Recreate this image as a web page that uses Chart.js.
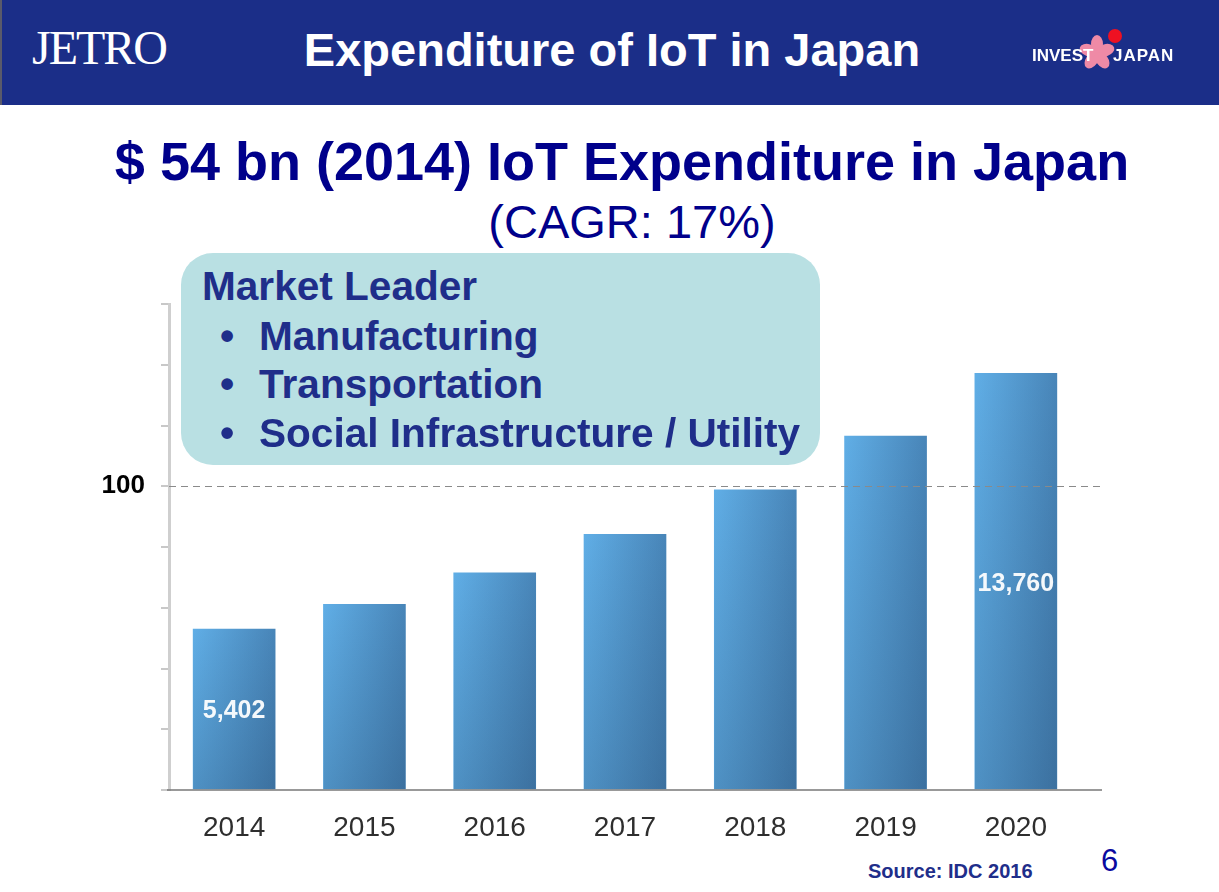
<!DOCTYPE html>
<html>
<head>
<meta charset="utf-8">
<script src="https://cdn.jsdelivr.net/npm/chart.js@4.4.1/dist/chart.umd.min.js"></script>
<style>
html,body{margin:0;padding:0;background:#fff;}
body{width:1219px;height:892px;position:relative;overflow:hidden;font-family:Arial,"Liberation Sans",sans-serif;}
.abs{position:absolute;white-space:nowrap;}
#hdr{left:0;top:0;width:1219px;height:105px;background:#1b2e88;}
#edge{left:0;top:0;width:2px;height:105px;background:#5a5a6a;}
#title{left:0;top:26px;width:1224px;text-align:center;color:#fff;font-weight:bold;font-size:47px;line-height:47px;}
#jetro{left:32px;top:24px;color:#fff;font-family:"Liberation Serif","DejaVu Serif",serif;font-size:48px;line-height:48px;letter-spacing:-2px;}
#invest{left:1032px;top:47px;color:#fff;font-weight:bold;font-size:17px;line-height:17px;z-index:2;}
#japan{left:1113px;top:47px;color:#fff;font-weight:bold;font-size:17px;line-height:17px;letter-spacing:1px;z-index:2;}
#flower{left:1078px;top:34px;z-index:1;}
#sub{left:0;top:134px;width:1244px;text-align:center;color:#00008b;font-weight:bold;font-size:54px;line-height:54px;}
#cagr{left:0;top:198px;width:1264px;text-align:center;color:#00008b;font-size:47px;line-height:47px;}
#box{left:181px;top:253px;width:639px;height:212px;background:#b9e0e3;border-radius:32px;z-index:2;}
.bt{color:#1f2e8a;font-weight:bold;font-size:40.6px;line-height:40px;z-index:3;}
#src{left:868px;top:861px;color:#1f2e8a;font-weight:bold;font-size:20px;line-height:20px;}
#pg{left:1101px;top:845px;color:#0a0aa0;font-size:31px;line-height:31px;}
#cv{position:absolute;left:0;top:0;z-index:1;}
</style>
</head>
<body>
<div id="hdr" class="abs"></div>
<div id="edge" class="abs"></div>
<div id="jetro" class="abs">JETRO</div>
<div id="title" class="abs">Expenditure of IoT in Japan</div>
<svg id="flower" class="abs" width="40" height="40" viewBox="0 0 40 40">
  <g transform="translate(19,19)" fill="#ef8aa6">
    <ellipse cx="0" cy="-9" rx="6" ry="9" transform="rotate(0)"/>
    <ellipse cx="0" cy="-9" rx="6" ry="9" transform="rotate(72)"/>
    <ellipse cx="0" cy="-9" rx="6" ry="9" transform="rotate(144)"/>
    <ellipse cx="0" cy="-9" rx="6" ry="9" transform="rotate(216)"/>
    <ellipse cx="0" cy="-9" rx="6" ry="9" transform="rotate(288)"/>
  </g>
</svg>
<div class="abs" style="left:1108px;top:29px;width:14px;height:14px;border-radius:50%;background:#ee1122;z-index:3;"></div>
<div id="invest" class="abs">INVEST</div>
<div id="japan" class="abs">JAPAN</div>

<div id="sub" class="abs">$ 54 bn (2014) IoT Expenditure in Japan</div>
<div id="cagr" class="abs">(CAGR: 17%)</div>

<div id="box" class="abs"></div>
<div class="abs bt" style="left:202px;top:266px;">Market Leader</div>
<div class="abs bt" style="left:220px;top:316px;">•</div>
<div class="abs bt" style="left:259px;top:316px;">Manufacturing</div>
<div class="abs bt" style="left:220px;top:364px;">•</div>
<div class="abs bt" style="left:259px;top:364px;">Transportation</div>
<div class="abs bt" style="left:220px;top:413px;">•</div>
<div class="abs bt" style="left:259px;top:413px;">Social Infrastructure / Utility</div>

<div id="src" class="abs">Source: IDC 2016</div>
<div id="pg" class="abs">6</div>

<canvas id="cv" width="1219" height="892"></canvas>

<script>
// ---- data ----
const categories = ['2014', '2015', '2016', '2017', '2018', '2019', '2020'];
const expenditure = [53.0, 61.1, 71.5, 84.2, 98.8, 116.5, 137.2];
const barLabels = ['5,402', '', '', '', '', '', '13,760'];
const yMin = 0;
const yMax = 160;
const yStep = 20;
const yLabeledTicks = [100];
const referenceLine = 100;

function barFill(ctx) {
  const chart = ctx.chart;
  if (!chart.chartArea || ctx.type !== 'data') return '#4f93c8';
  const xs = chart.scales.x;
  const cx = xs.getPixelForValue(ctx.dataIndex);
  const g = chart.ctx.createLinearGradient(cx - 41, 0, cx + 41, 0);
  g.addColorStop(0, '#60aee6');
  g.addColorStop(1, '#4885b8');
  return g;
}

const extras = {
  id: 'extras',
  afterDatasetsDraw(chart) {
    const c = chart.ctx;
    const area = chart.chartArea;
    const ys = chart.scales.y;
    const meta = chart.getDatasetMeta(0);
    c.save();
    // vertical shading on bars
    meta.data.forEach((bar) => {
      const p = bar.getProps(['x', 'y', 'base', 'width'], true);
      const g = c.createLinearGradient(0, p.y, 0, p.base);
      g.addColorStop(0, 'rgba(10,30,60,0)');
      g.addColorStop(1, 'rgba(10,30,60,0.2)');
      c.fillStyle = g;
      c.fillRect(p.x - p.width / 2, p.y, p.width, p.base - p.y);
    });
    // bar value labels
    c.font = 'bold 25px Arial, "Liberation Sans", sans-serif';
    c.fillStyle = 'rgba(255,255,255,0.94)';
    c.textAlign = 'center';
    c.textBaseline = 'middle';
    meta.data.forEach((bar, i) => {
      if (!barLabels[i]) return;
      const yMid = ys.getPixelForValue(expenditure[i] / 2);
      c.fillText(barLabels[i], bar.x, yMid + 2);
    });
    // dashed reference line
    const yr = Math.round(ys.getPixelForValue(referenceLine)) + 0.5;
    c.strokeStyle = '#8a8a8a';
    c.lineWidth = 1.2;
    c.setLineDash([7, 5]);
    c.beginPath();
    c.moveTo(area.left, yr);
    c.lineTo(area.right + 21, yr);
    c.stroke();
    // base line
    c.setLineDash([]);
    c.strokeStyle = '#777';
    c.lineWidth = 1.5;
    const yb = ys.getPixelForValue(0);
    c.beginPath();
    c.moveTo(area.left - 2, yb);
    c.lineTo(area.right + 21, yb);
    c.stroke();
    c.restore();
  }
};

new Chart(document.getElementById('cv'), {
  type: 'bar',
  data: {
    labels: categories,
    datasets: [{
      data: expenditure,
      backgroundColor: barFill,
      borderWidth: 0,
      barThickness: 82
    }]
  },
  options: {
    responsive: false,
    devicePixelRatio: 1,
    animation: false,
    layout: { padding: { top: 304, right: 138, left: 0, bottom: 0 } },
    plugins: { legend: { display: false }, tooltip: { enabled: false } },
    scales: {
      x: {
        grid: { display: false },
        border: { display: false },
        ticks: {
          color: '#2e2e2e',
          font: { family: 'Arial, "Liberation Sans", sans-serif', size: 28 },
          padding: 13
        },
        afterFit(s) { s.height = 102; s.paddingLeft = 0; s.paddingRight = 0; }
      },
      y: {
        min: yMin,
        max: yMax,
        ticks: {
          stepSize: yStep,
          color: '#000',
          font: { family: 'Arial, "Liberation Sans", sans-serif', size: 26, weight: 'bold' },
          padding: 16,
          callback: (v) => yLabeledTicks.includes(v) ? String(v) : ''
        },
        grid: { drawOnChartArea: false, drawTicks: true, tickLength: 8, color: '#c8c8c8', lineWidth: 2 },
        border: { display: true, color: '#cfcfcf', width: 3 },
        afterFit(s) { s.width = 169; s.paddingTop = 0; s.paddingBottom = 0; }
      }
    }
  },
  plugins: [extras]
});
</script>
</body>
</html>
